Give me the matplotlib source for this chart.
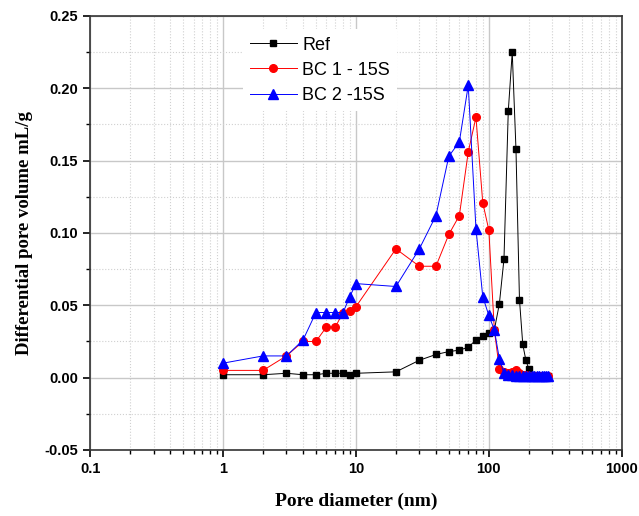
import numpy as np
import matplotlib.pyplot as plt
from matplotlib.ticker import LogLocator, FixedLocator, NullFormatter

# pore diameter (nm)
x_ref = [1, 2, 3, 4, 5, 6, 7, 8, 9, 10, 20, 30, 40, 50, 60, 70, 80, 90, 100, 110,
         120, 130, 140, 150, 160, 170, 180, 190, 200, 210, 220, 230, 240, 250, 260, 270, 280]
y_ref = [0.002, 0.002, 0.003, 0.002, 0.002, 0.003, 0.003, 0.003, 0.002, 0.003, 0.004, 0.012,
         0.016, 0.018, 0.019, 0.021, 0.026, 0.029, 0.031, 0.033,
         0.051, 0.082, 0.184, 0.225, 0.158, 0.054, 0.023, 0.012, 0.006, 0.002, 0.001,
         0.001, 0.001, 0.001, 0.001, 0.001, 0.001]

x_bc1 = [1, 2, 3, 4, 5, 6, 7, 8, 9, 10, 20, 30, 40, 50, 60, 70, 80, 90, 100, 110,
         120, 130, 140, 150, 160, 170, 180, 190, 200, 210, 220, 230, 240, 250, 260, 270, 280]
y_bc1 = [0.005, 0.005, 0.015, 0.025, 0.025, 0.035, 0.035, 0.045, 0.046, 0.049, 0.089, 0.077,
         0.077, 0.099, 0.112, 0.156, 0.180, 0.121, 0.102, 0.033,
         0.006, 0.004, 0.003, 0.004, 0.005, 0.003, 0.002, 0.002, 0.001, 0.001, 0.001,
         0.001, 0.001, 0.001, 0.001, 0.001, 0.001]

x_bc2 = [1, 2, 3, 4, 5, 6, 7, 8, 9, 10, 20, 30, 40, 50, 60, 70, 80, 90, 100, 110,
         120, 130, 140, 150, 160, 170, 180, 190, 200, 210, 220, 230, 240, 250, 260, 270, 280]
y_bc2 = [0.010, 0.015, 0.015, 0.026, 0.045, 0.045, 0.045, 0.045, 0.056, 0.065, 0.063, 0.089,
         0.112, 0.153, 0.163, 0.202, 0.103, 0.056, 0.043, 0.033,
         0.013, 0.003, 0.002, 0.002, 0.001, 0.001, 0.001, 0.001, 0.001, 0.001, 0.001,
         0.001, 0.001, 0.001, 0.001, 0.001, 0.001]

fig = plt.figure(figsize=(6.39, 5.16), dpi=100)
ax = fig.add_axes([0.141, 0.128, 0.832, 0.841])

ax.plot(x_ref, y_ref, color='black', lw=0.7, marker='s', ms=4.5, label='Ref')
ax.plot(x_bc1, y_bc1, color='red', lw=0.7, marker='o', ms=5.5, label='BC 1 - 15S')
ax.plot(x_bc2, y_bc2, color='blue', lw=0.7, marker='^', ms=6.5, label='BC 2 -15S')

ax.set_xscale('log')
ax.set_xlim(0.1, 1000)
ax.set_ylim(-0.05, 0.25)
ax.set_xticks([0.1, 1, 10, 100, 1000])
ax.set_xticklabels(['0.1', '1', '10', '100', '1000'])
ax.xaxis.set_minor_locator(LogLocator(base=10, subs=np.arange(2, 10)))
ax.xaxis.set_minor_formatter(NullFormatter())
ax.set_yticks(np.arange(-0.05, 0.251, 0.05))
ax.set_yticklabels(['-0.05', '0.00', '0.05', '0.10', '0.15', '0.20', '0.25'])
ax.yaxis.set_minor_locator(FixedLocator(np.arange(-0.025, 0.25, 0.05)))

ax.grid(which='major', color='#c8c8c8', lw=1.0)
ax.grid(which='minor', color='#d0d0d0', lw=0.8, ls=':')
ax.set_axisbelow(True)

ax.tick_params(which='major', direction='out', length=5, width=1.2,
               top=False, right=False, labelsize=10.5)
ax.tick_params(which='minor', direction='out', length=3, width=1.0, top=False, right=False)
for lab in ax.get_xticklabels() + ax.get_yticklabels():
    lab.set_fontfamily('Liberation Sans')
    lab.set_fontweight('bold')
for s in ax.spines.values():
    s.set_linewidth(1.2)
    s.set_color('#333333')

ax.set_xlabel('Pore diameter (nm)', fontfamily='Liberation Serif', fontweight='bold',
              fontsize=14, labelpad=12)
ax.set_ylabel('Differential pore volume mL/g', fontfamily='Liberation Serif',
              fontweight='bold', fontsize=13.5, labelpad=8)

leg = ax.legend(loc='upper left', bbox_to_anchor=(0.27, 0.99), frameon=True,
                edgecolor='none', framealpha=1, fancybox=False, handlelength=2.6,
                handletextpad=0.3, prop={'family': 'Liberation Sans', 'size': 13},
                labelspacing=0.45)

fig.savefig('out.png', dpi=100)
